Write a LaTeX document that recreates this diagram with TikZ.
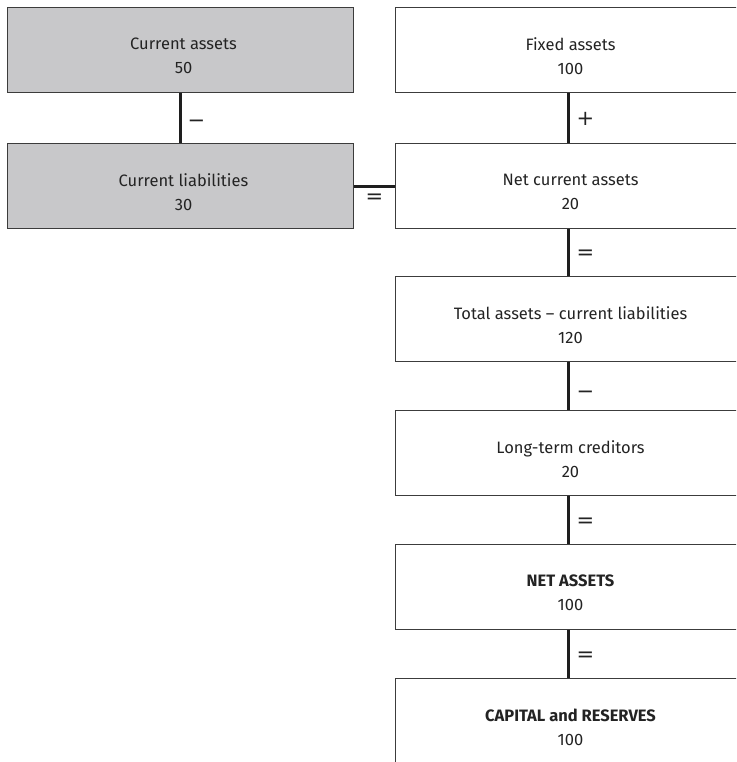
\documentclass[tikz,border=0pt]{standalone}
\usepackage{fontspec}
\setmainfont{Fira Sans}
\newfontfamily\opfont{DejaVu Sans}
\definecolor{boxfill}{RGB}{200,200,202}
\definecolor{boxline}{RGB}{60,60,60}
\definecolor{linecol}{RGB}{30,30,30}
\definecolor{textcol}{RGB}{35,35,35}
\begin{document}
\begin{tikzpicture}[x=1pt,y=-1pt,
  box/.style={draw=boxline, line width=1pt, minimum width=346pt, minimum height=85pt,
              inner sep=0pt, anchor=north west},
  shaded/.style={box, fill=boxfill},
  txt/.style={align=center, font=\fontsize{16.5}{24}\selectfont, text=textcol, inner sep=0pt},
  link/.style={line width=3pt, draw=linecol},
  op/.style={font=\opfont\fontsize{21}{21}\selectfont, text=textcol, inner sep=0pt}]
\path[use as bounding box, clip] (0,0) rectangle (736,762);

% working-capital column
\node[shaded] (ca) at (7,7) {};
\node[shaded] (cl) at (7,143) {};
% balance-sheet column (runs past the page edge)
\node[box] (fa)  at (395,7) {};
\node[box] (nca) at (395,143) {};
\node[box] (ta)  at (395,276) {};
\node[box] (ltc) at (395,410) {};
\node[box] (na)  at (395,544) {};
\node[box] (cr)  at (395,678) {};

% connectors with their operators
\draw[link] (ca.south) -- (cl.north) node[op, midway, xshift=16pt, yshift=-6pt] {−};
\draw[link] (cl.east) -- (nca.west) node[op, midway, yshift=-13pt] {=};
\draw[link] (fa.south) -- (nca.north) node[op, midway, xshift=17pt, yshift=-1pt] {+};
\draw[link] (nca.south) -- (ta.north) node[op, midway, xshift=17pt, yshift=-2pt] {=};
\draw[link] (ta.south) -- (ltc.north) node[op, midway, xshift=17pt, yshift=-9pt] {−};
\draw[link] (ltc.south) -- (na.north) node[op, midway, xshift=17pt, yshift=-3pt] {=};
\draw[link] (na.south) -- (cr.north) node[op, midway, xshift=17pt, yshift=-3pt] {=};

% box texts
\node[txt] (ca-t)  at ([xshift=3pt,yshift=-6pt]ca.center)  {Current assets\\50};
\node[txt] (cl-t)  at ([xshift=3pt,yshift=-6pt]cl.center)  {Current liabilities\\30};
\node[txt] (fa-t)  at ([xshift=2pt,yshift=-6pt]fa.center)  {Fixed assets\\100};
\node[txt] (nca-t) at ([xshift=2pt,yshift=-6pt]nca.center) {Net current assets\\20};
\node[txt] (ta-t)  at ([xshift=2pt,yshift=-6pt]ta.center)  {Total assets – current liabilities\\120};
\node[txt] (ltc-t) at ([xshift=2pt,yshift=-6pt]ltc.center) {Long-term creditors\\20};
\node[txt] (na-t)  at ([xshift=2pt,yshift=-6pt]na.center)  {\textbf{NET ASSETS}\\100};
\node[txt] (cr-t)  at ([xshift=2pt,yshift=-6pt]cr.center)  {\textbf{CAPITAL and RESERVES}\\100};
\end{tikzpicture}
\end{document}
